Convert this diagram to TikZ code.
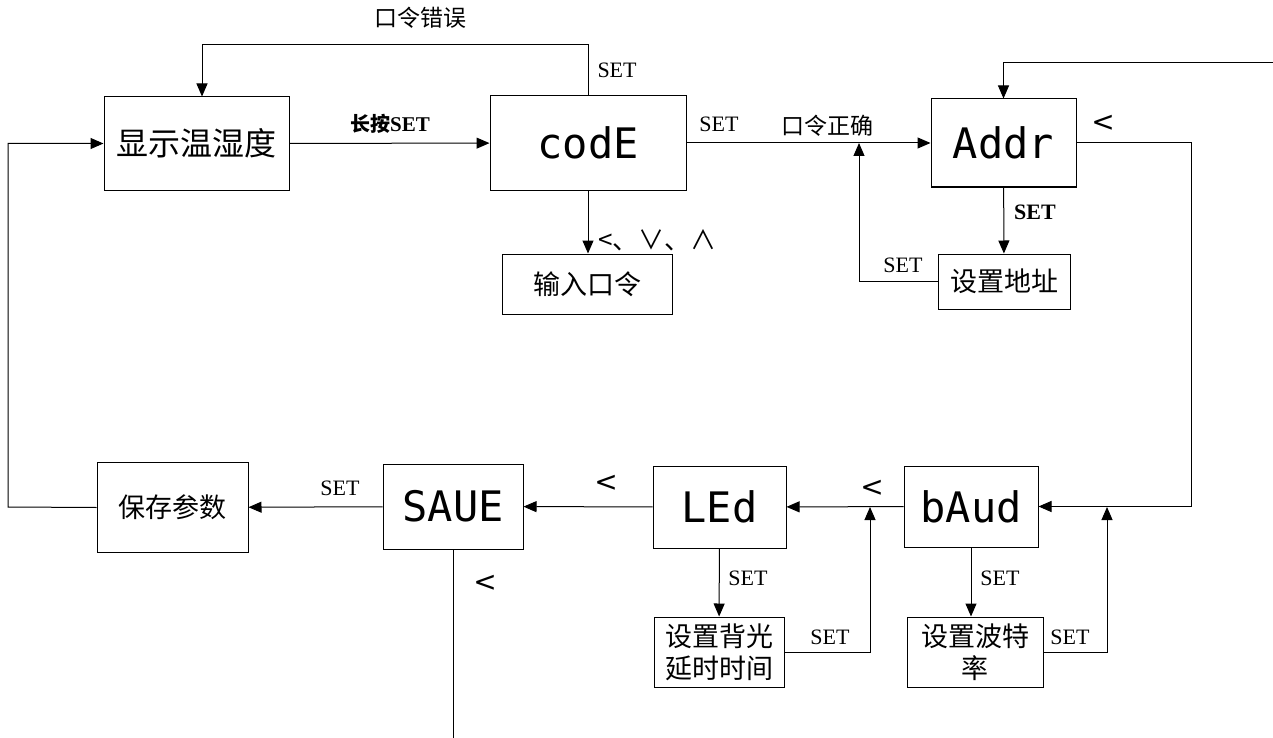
\documentclass[tikz,border=0pt]{standalone}
\usepackage{fontspec}
\setmainfont{Liberation Serif}
\newfontfamily\cjk{Noto Sans CJK SC}
\newfontfamily\segfont{DejaVu Sans Mono}
\newfontfamily\symfont{DejaVu Sans}
\usetikzlibrary{arrows.meta,positioning,calc}

\begin{document}
\begin{tikzpicture}[x=1pt, y=-1pt, >={Triangle[length=13pt,width=11pt]}, line width=1pt,
  box/.style={draw, inner sep=0pt, font=\cjk\fontsize{32}{36}\selectfont},
  small/.style={draw, inner sep=0pt, align=center, font=\cjk\fontsize{27}{32}\selectfont},
  seg/.style={draw, inner sep=0pt, font=\segfont\fontsize{42}{44}\selectfont},
  lbl/.style={inner sep=0pt, font=\fontsize{22}{24}\selectfont},
  cjklbl/.style={inner sep=0pt, font=\cjk\fontsize{23}{26}\selectfont},
  key/.style={inner sep=0pt, font=\symfont\fontsize{28}{30}\selectfont}]

  \useasboundingbox (0,0) rectangle (1273,738);

  % Define coordinates for nodes
  \node[box, minimum width=185pt, minimum height=93pt] (show) at (196.5,143.5) {显示温湿度};
  \node[seg, minimum width=196pt, minimum height=94pt] (code) at (588,143) {codE};
  \node[seg, minimum width=145pt, minimum height=88pt] (addr) at (1003.5,143) {Addr};
  \node[small, minimum width=132pt, minimum height=55pt] (setaddr) at (1004,281.5) {设置地址};
  \node[small, minimum width=170pt, minimum height=60pt] (pwd) at (587,284) {输入口令};
  \node[small, minimum width=151pt, minimum height=90pt] (store) at (172.5,507.5) {保存参数};
  \node[seg, minimum width=140pt, minimum height=85pt] (saue) at (453,506.5) {SAUE};
  \node[seg, minimum width=133pt, minimum height=82pt] (led) at (719.5,507) {LEd};
  \node[seg, minimum width=134pt, minimum height=81pt] (baud) at (971,506.5) {bAud};
  \node[small, minimum width=130pt, minimum height=70pt] (backlight) at (719,652) {设置背光\\延时时间};
  \node[small, minimum width=136pt, minimum height=70pt] (baudset) at (975,652) {设置波特\\率};

  \coordinate (ltop) at (202,45);
  \coordinate (feed) at (1273,63);
  \coordinate (j1) at (859,143);
  \coordinate (rr) at (1191,143);
  \coordinate (ll) at (8,507);
  \coordinate (j2) at (870,507);
  \coordinate (j3) at (1107,507);
  \coordinate (bot) at (453,738);

  % Labels
  \node[cjklbl] (wrong) at (420,18) {口令错误};
  \node[lbl, anchor=west] (s1) at (597,70) {SET};
  \node[inner sep=0pt] (hold) at (390,124) {{\cjk\bfseries\fontsize{20}{22}\selectfont 长按}{\bfseries\fontsize{21}{22}\selectfont SET}};
  \node[lbl] (s2) at (719,124) {SET};
  \node[cjklbl] (right) at (827,126) {口令正确};
  \node[key, anchor=west, font=\cjk\fontsize{26}{28}\selectfont] (keys) at (598,240) {<、∨、∧};
  \node[lbl, font=\bfseries\fontsize{22}{24}\selectfont] (s3) at (1035,212) {SET};
  \node[lbl] (s4) at (903,265) {SET};
  \node[key] (k1) at (1103,123) {<};
  \node[key] (k2) at (872,488) {<};
  \node[key] (k3) at (606,483) {<};
  \node[key] (k4) at (485,583) {<};
  \node[lbl] (s5) at (340,488) {SET};
  \node[lbl] (s6) at (748,578) {SET};
  \node[lbl] (s7) at (830,637) {SET};
  \node[lbl] (s8) at (1000,578) {SET};
  \node[lbl] (s9) at (1070,637) {SET};

  % Draw arrows between nodes
  \draw[->] (code.north) |- (ltop) -- (ltop |- show.north);
  \draw[->] (feed) -| (addr.north);
  \draw[->] (show) -- (code);
  \draw[->] (code) -- (addr);
  \draw[->] (setaddr.west) -| (j1);
  \draw[->] (code.south) -- (code.south |- pwd.north);
  \draw[->] (addr) -- (setaddr);
  \draw[->] (addr.east) -- (rr) |- (baud.east);
  \draw[->] (baud) -- (led);
  \draw[->] (led) -- (saue);
  \draw[->] (saue) -- (store);
  \draw[->] (store.west) -- (ll) |- (show.west);
  \draw (saue) -- (bot);
  \draw[->] (led) -- (backlight);
  \draw[->] (backlight.east) -| (j2);
  \draw[->] (baud.south) -- (baud.south |- baudset.north);
  \draw[->] (baudset.east) -| (j3);
\end{tikzpicture}
\end{document}
